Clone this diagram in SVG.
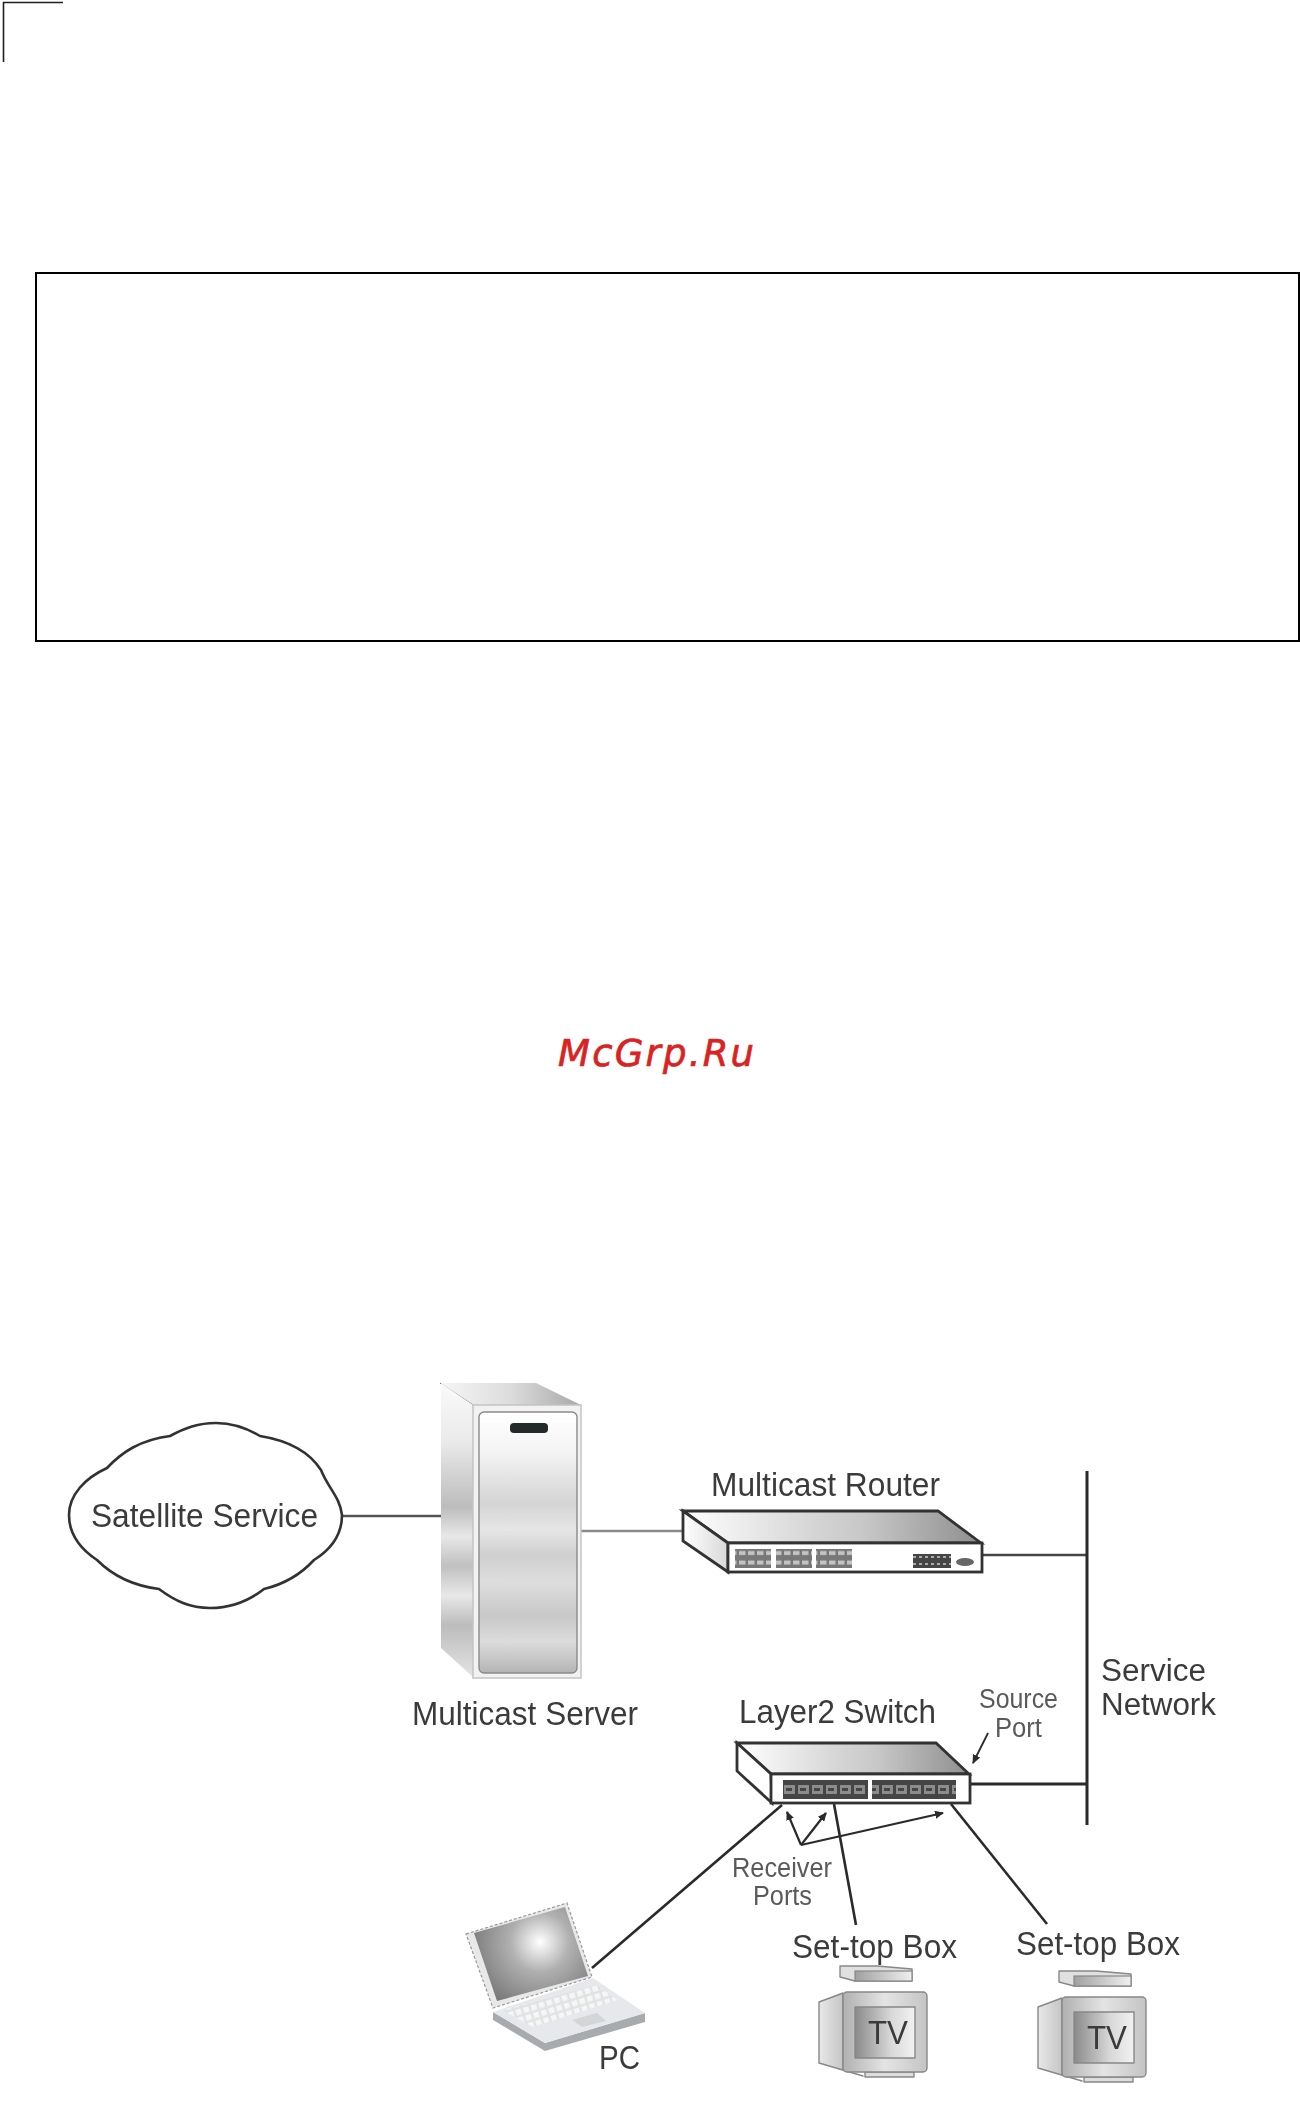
<svg xmlns="http://www.w3.org/2000/svg" width="1300" height="2107" viewBox="0 0 1300 2107">
<style>
.t{font-family:"Liberation Sans",Arial,sans-serif;font-size:34px;fill:#3a3a3a}
.n{font-size:31px}
.s{font-family:"Liberation Sans",Arial,sans-serif;font-size:27px;fill:#5a5a5a}
.c{fill:none;stroke:#2a2a2a;stroke-width:2.6;stroke-linecap:butt}
.dev{stroke:#333;stroke-width:2.8;stroke-linejoin:miter}
.tvl{stroke:#888;stroke-width:1.4;stroke-linejoin:round}
</style>
<defs>
<filter id="soft" x="-5%" y="-5%" width="110%" height="110%"><feGaussianBlur stdDeviation="0.6"/></filter>
<linearGradient id="topg" x1="0" x2="1" y1="0" y2="0"><stop offset="0" stop-color="#fff"/><stop offset=".45" stop-color="#d4d4d4"/><stop offset=".6" stop-color="#c8c8c8"/><stop offset="1" stop-color="#8f8f8f"/></linearGradient>
<linearGradient id="sideg" x1="0" x2="1" y1="0" y2="0"><stop offset="0" stop-color="#fff"/><stop offset="1" stop-color="#d8d8d8"/></linearGradient>
<linearGradient id="srvtop" x1="0" x2="1" y1="0" y2="0"><stop offset="0" stop-color="#f6f6f6"/><stop offset=".5" stop-color="#dcdcdc"/><stop offset="1" stop-color="#a8a8a8"/></linearGradient>
<linearGradient id="srvside" x1="0" x2="0" y1="0" y2="1"><stop offset="0" stop-color="#fafafa"/><stop offset=".2" stop-color="#eaeaea"/><stop offset=".42" stop-color="#bcbcbc"/><stop offset=".52" stop-color="#e8e8e8"/><stop offset=".62" stop-color="#c0c0c0"/><stop offset=".72" stop-color="#e8e8e8"/><stop offset=".82" stop-color="#bcbcbc"/><stop offset="1" stop-color="#e4e4e4"/></linearGradient>
<linearGradient id="panel" x1="0" x2="0" y1="0" y2="1"><stop offset="0" stop-color="#fff"/><stop offset=".15" stop-color="#f4f4f4"/><stop offset=".35" stop-color="#d4d4d4"/><stop offset=".45" stop-color="#e6e6e6"/><stop offset=".55" stop-color="#cfcfcf"/><stop offset=".65" stop-color="#dedede"/><stop offset=".78" stop-color="#c8c8c8"/><stop offset=".88" stop-color="#dcdcdc"/><stop offset="1" stop-color="#b4b4b4"/></linearGradient>
<radialGradient id="lcd" gradientUnits="userSpaceOnUse" cx="540" cy="1942" r="85"><stop offset="0" stop-color="#fff"/><stop offset=".35" stop-color="#b0b0b0"/><stop offset="1" stop-color="#666"/></radialGradient>
<linearGradient id="tvf" x1="0" x2="1" y1="0" y2="0"><stop offset="0" stop-color="#b0b0b0"/><stop offset=".5" stop-color="#e4e4e4"/><stop offset="1" stop-color="#c4c4c4"/></linearGradient>
<linearGradient id="tvs" x1="0" x2="1" y1="0" y2="0"><stop offset="0" stop-color="#e8e8e8"/><stop offset="1" stop-color="#a8a8a8"/></linearGradient>
<linearGradient id="tvd" x1="0" x2="1" y1="0" y2="0"><stop offset="0" stop-color="#8a8a8a"/><stop offset=".6" stop-color="#d8d8d8"/><stop offset="1" stop-color="#f2f2f2"/></linearGradient>
<linearGradient id="stb" x1="0" x2="1" y1="0" y2="0"><stop offset="0" stop-color="#a0a0a0"/><stop offset="1" stop-color="#f0f0f0"/></linearGradient>
<pattern id="rp" width="9" height="9.5" patternUnits="userSpaceOnUse"><rect width="9" height="9.5" fill="#777"/><rect x="1" y="2.5" width="6.5" height="4" fill="#c4c4c4"/></pattern>
<pattern id="rq" width="6" height="7" patternUnits="userSpaceOnUse"><rect width="6" height="7" fill="#444"/><rect x="1" y="2" width="3" height="2" fill="#aaa"/></pattern>
<pattern id="sp" width="14" height="19" patternUnits="userSpaceOnUse" x="783" y="1780"><rect width="14" height="19" fill="#444"/><rect x="1" y="5" width="11" height="9" fill="#8c8c8c"/><rect x="3" y="8" width="6" height="3" fill="#444"/></pattern>
<pattern id="kb" width="8" height="8" patternUnits="userSpaceOnUse" patternTransform="rotate(-17)"><rect width="8" height="8" fill="#e0e2e4"/><rect x="1" y="1" width="5.5" height="5.5" fill="#f6f6f6"/></pattern>
<marker id="ah" markerWidth="9" markerHeight="8" refX="8" refY="4" orient="auto" markerUnits="userSpaceOnUse"><path d="M0 0L9 4L0 8Z" fill="#2a2a2a"/></marker>
<g id="tvshape">
<polygon class="tvl" points="819,2002 843,1993 843,2070 863,2076 819,2063" fill="url(#tvs)"/>
<rect class="tvl" x="865" y="2072" width="49" height="5" fill="#ddd"/>
<rect class="tvl" x="843" y="1992" width="84" height="80" rx="4" fill="url(#tvf)"/>
<rect class="tvl" x="855" y="2007" width="60" height="51" fill="url(#tvd)"/>
<polygon class="tvl" points="840,1966 877,1966 912,1969 912,1981 855,1981 840,1977" fill="#e0e0e0"/>
<rect x="855" y="1971" width="57" height="10" fill="url(#stb)" stroke="#888" stroke-width="1.2"/>
</g>
</defs>

<g id="crop-mark"><path d="M3.5 62V2.5H63" fill="none" stroke="#231f20" stroke-width="1.6"/></g>
<g id="frame"><rect x="36" y="273" width="1263" height="368" fill="#fff" stroke="#000" stroke-width="2"/></g>
<g id="watermark"><text x="558" y="1066" textLength="196" lengthAdjust="spacing" font-family="'DejaVu Sans',sans-serif" font-style="oblique" font-size="37" fill="#d92323" stroke="#d92323" stroke-width=".7">McGrp.Ru</text></g>

<g filter="url(#soft)">
<g id="connectors">
<path class="c" style="stroke:#555" d="M342 1516H441"/>
<path class="c" style="stroke:#8a8a8a" d="M581 1531H684"/>
<path class="c" style="stroke:#444" d="M982 1555H1087"/>
<path class="c" style="stroke-width:3" d="M1087 1471V1825"/>
<path class="c" style="stroke-width:3" d="M970 1784H1087"/>
<path class="c" d="M782 1805L592 1968"/>
<path class="c" d="M834 1804L856 1925"/>
<path class="c" d="M951 1804L1047 1924"/>
<path class="c" style="stroke-width:1.8" marker-end="url(#ah)" d="M988 1733L973 1763"/>
<path class="c" style="stroke-width:2.2" marker-end="url(#ah)" d="M801 1845L787 1812"/>
<path class="c" style="stroke-width:2.2" marker-end="url(#ah)" d="M801 1845L826 1813"/>
<path class="c" style="stroke-width:2.2" marker-end="url(#ah)" d="M801 1845L943 1813"/>
</g>

<g id="satellite-service">
<path d="M342 1515C340 1497 328 1488 321 1470C308 1450 285 1440 260 1436C245 1427 232 1423 216 1423C198 1423 185 1428 170 1436C140 1440 122 1452 107 1468C85 1478 69 1495 69 1515C69 1535 82 1550 97 1560C115 1578 135 1586 159 1589C175 1601 190 1608 210 1608C232 1608 250 1600 264 1589C285 1584 302 1573 314 1560C330 1550 342 1535 342 1515Z" fill="#fff" stroke="#333" stroke-width="2.6"/>
<text class="t" x="91" y="1527" textLength="227" lengthAdjust="spacingAndGlyphs">Satellite Service</text>
</g>

<g id="multicast-server">
<polygon points="440,1383 536,1383 581,1405 473,1405" fill="url(#srvtop)"/>
<path d="M440 1383L473 1405" stroke="#666" stroke-width="1"/>
<polygon points="441,1383 473,1405 474,1678 441,1648" fill="url(#srvside)"/>
<rect x="473" y="1405" width="108" height="273" fill="#f2f2f2" stroke="#c4c4c4" stroke-width="1.5"/>
<rect x="479" y="1412" width="98" height="261" rx="5" fill="url(#panel)" stroke="#8a8a8a" stroke-width="1.4"/>
<rect x="510" y="1423" width="38" height="10" rx="4" fill="#23292b"/>
<text class="t" x="412" y="1725" textLength="226" lengthAdjust="spacingAndGlyphs">Multicast Server</text>
</g>

<g id="multicast-router">
<polygon class="dev" points="683,1511 938,1511 981,1543 728,1543" fill="url(#topg)"/>
<polygon class="dev" points="683,1511 728,1543 728,1572 683,1541" fill="url(#sideg)"/>
<rect class="dev" x="728" y="1543" width="254" height="29" fill="#fff"/>
<rect x="735" y="1549" width="36" height="19" fill="url(#rp)"/>
<rect x="776" y="1549" width="36" height="19" fill="url(#rp)"/>
<rect x="816" y="1549" width="36" height="19" fill="url(#rp)"/>
<rect x="913" y="1554" width="38" height="14" fill="url(#rq)"/>
<ellipse cx="965" cy="1562" rx="9" ry="4" fill="#666"/>
<text class="t" x="711" y="1496" textLength="229" lengthAdjust="spacingAndGlyphs">Multicast Router</text>
</g>

<g id="layer2-switch">
<polygon class="dev" points="737,1743 936,1743 969,1774 771,1774" fill="url(#topg)"/>
<polygon class="dev" points="737,1743 771,1774 772,1803 737,1771" fill="#fff"/>
<rect class="dev" x="771" y="1774" width="199" height="29" fill="#fff"/>
<rect x="783" y="1780" width="85" height="19" fill="url(#sp)"/>
<rect x="872" y="1780" width="84" height="19" fill="url(#sp)"/>
<text class="t" x="739" y="1723" textLength="197" lengthAdjust="spacingAndGlyphs">Layer2 Switch</text>
</g>

<g id="source-port">
<text class="s" x="979" y="1708" textLength="79" lengthAdjust="spacingAndGlyphs">Source</text>
<text class="s" x="995" y="1737" textLength="47" lengthAdjust="spacingAndGlyphs">Port</text>
</g>

<g id="service-network">
<text class="t n" x="1101" y="1681" textLength="105" lengthAdjust="spacingAndGlyphs">Service</text>
<text class="t n" x="1101" y="1715" textLength="115" lengthAdjust="spacingAndGlyphs">Network</text>
</g>

<g id="receiver-ports">
<text class="s" x="732" y="1877" textLength="100" lengthAdjust="spacingAndGlyphs">Receiver</text>
<text class="s" x="753" y="1905" textLength="59" lengthAdjust="spacingAndGlyphs">Ports</text>
</g>

<g id="pc">
<polygon points="493,2012 493,2020 545,2051 645,2022 645,2013 545,2043" fill="#a8abae"/>
<polygon points="493,2012 593,1978 645,2013 545,2043" fill="#e6e8ec"/>
<polygon points="502,2010 597,1985 617,2000 533,2027" fill="url(#kb)"/>
<polygon points="572,2020 597,2013 606,2021 582,2027" fill="#d4d6d6"/>
<polygon points="466,1934 567,1903 592,1977 493,2008" fill="#e8e8e8" stroke="#999" stroke-width="1.2" stroke-dasharray="3 2"/>
<polygon points="474,1933 565,1907 588,1976 497,2001" fill="url(#lcd)"/>
<text class="t" x="599" y="2069" textLength="41" lengthAdjust="spacingAndGlyphs">PC</text>
</g>

<g id="set-top-box-1">
<use href="#tvshape"/>
<text class="t" x="792" y="1958" textLength="165" lengthAdjust="spacingAndGlyphs">Set-top Box</text>
<text class="t" x="868" y="2044" textLength="40" lengthAdjust="spacingAndGlyphs">TV</text>
</g>

<g id="set-top-box-2">
<use href="#tvshape" transform="translate(219 5)"/>
<text class="t" x="1016" y="1955" textLength="164" lengthAdjust="spacingAndGlyphs">Set-top Box</text>
<text class="t" x="1087" y="2049" textLength="40" lengthAdjust="spacingAndGlyphs">TV</text>
</g>
</g>
</svg>
